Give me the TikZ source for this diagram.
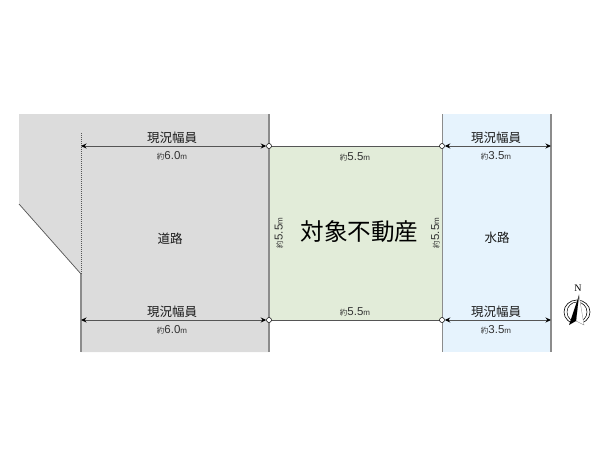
\documentclass[tikz,border=0pt]{standalone}
\usepackage{fontspec}
\setmainfont{Liberation Sans}
\newfontfamily\cjk{Noto Sans CJK JP}
\newfontfamily\serifn{Liberation Serif}
\usepackage{xcolor}
\usetikzlibrary{arrows.meta}
\usetikzlibrary{positioning}
\definecolor{roadgray}{HTML}{DCDCDC}
\definecolor{plotgreen}{HTML}{E2ECD9}
\definecolor{waterblue}{HTML}{E6F3FD}
\definecolor{edgegray}{HTML}{8C8C8C}
\definecolor{linegray}{HTML}{555555}
\newcommand{\widthlabel}[1]{{\cjk\fontsize{7.5}{8}\selectfont 約}{\fontsize{11.5}{11}\selectfont #1}{\fontsize{8}{8}\selectfont m}}
\tikzset{%
  every corner/.style={
    circle,
    draw=black,
    fill=white,
    line width=0.5pt,
    inner sep=0pt,
    minimum size=5pt
  },
  dim line/.style={
    draw=linegray,
    line width=0.9pt,
    {Stealth[length=5.5pt,width=5pt,black]}-{Stealth[length=5.5pt,width=5pt,black]}
  },
  side line/.style={
    draw=edgegray,
    line width=1.2pt
  },
  width title/.style={
    font=\cjk\fontsize{12.5}{12.5}\selectfont,
    text=black!90,
    inner sep=0pt
  },
  width value/.style={
    text=black!80,
    inner sep=0pt
  },
  area name/.style={
    font=\cjk\fontsize{12.5}{12.5}\selectfont,
    text=black!90,
    inner sep=0pt
  },
}
\begin{document}
\begin{tikzpicture}[x=1pt, y=-1pt]

    \useasboundingbox (0,0) rectangle (600,450);

    % areas
    \fill [roadgray] (19,114) -- (269,114) -- (269,352) -- (81,352)
        -- (81,274) -- (19,204) -- cycle;
    \fill [plotgreen] (269,146) rectangle (442,320);
    \fill [waterblue] (442,114) rectangle (551,352);

    % edges
    \draw [side line] (269,114) -- (269,352);
    \draw [side line, line width=1pt] (442,114) -- (442,352);
    \draw [side line, line width=1.6pt] (551,114) -- (551,352);
    \draw [side line, line width=1.6pt] (81,274) -- (81,352);
    \draw [linegray, line width=0.7pt] (19,204) -- (81,274);
    \draw [linegray, line width=0.8pt, dash pattern=on 1pt off 1pt] (81,133) -- (81,274);

    % plot outline
    \draw [linegray, line width=1pt] (269,146) -- (442,146);
    \draw [linegray, line width=1pt] (269,320) -- (442,320);

    % dimension ends
    \foreach \n/\y in {top/146, bottom/320} {
        \coordinate (road-\n) at (81,\y);
        \coordinate (water-\n) at (551,\y);
        \node [every corner] (plot-\n-left) at (269,\y) {};
        \node [every corner] (plot-\n-right) at (442,\y) {};
        \draw [dim line] (road-\n) -- (plot-\n-left);
        \draw [dim line] (plot-\n-right) -- (water-\n);
    }

    % width labels
    \foreach \n/\x/\v in {road/172/6.0, water/496/3.5} {
        \node [width title] (\n-title-a) at (\x,138) {現況幅員};
        \node [width value] (\n-value-a) at (\x,155.5) {\widthlabel{\v}};
        \node [width title] (\n-title-b) at (\x,312) {現況幅員};
        \node [width value] (\n-value-b) at (\x,329.5) {\widthlabel{\v}};
    }

    % plot sizes
    \node [width value] (size-top) at (355,157) {\widthlabel{5.5}};
    \node [width value] (size-bottom) at (355,312) {\widthlabel{5.5}};
    \node [width value, rotate=90] (size-left) at (279,233) {\widthlabel{5.5}};
    \node [width value, rotate=90] (size-right) at (435.5,233) {\widthlabel{5.5}};

    % area names
    \node [area name, font=\cjk\fontsize{23.6}{24}\selectfont, text=black] (plot-name) at (359.5,232) {対象不動産};
    \node [area name] (road-name) at (170,239) {道路};
    \node [area name] (water-name) at (497,238) {水路};

    % north mark
    \node [inner sep=0pt, font=\serifn\fontsize{10}{10}\selectfont] (north) at (578,288.5) {N};
    \draw [black, line width=0.6pt] (577,312) ellipse [x radius=13pt, y radius=12pt];
    \draw [black, line width=0.5pt] (577,312) ellipse [x radius=10pt, y radius=10pt];
    \fill [white] (579,295) -- (569,325) -- (584,325) -- cycle;
    \draw [gray, line width=0.3pt, fill=white] (579,295) -- (584,325) -- (576,321) -- cycle;
    \fill [black] (579,295) -- (569,325) -- (576,321) -- cycle;

\end{tikzpicture}
\end{document}
